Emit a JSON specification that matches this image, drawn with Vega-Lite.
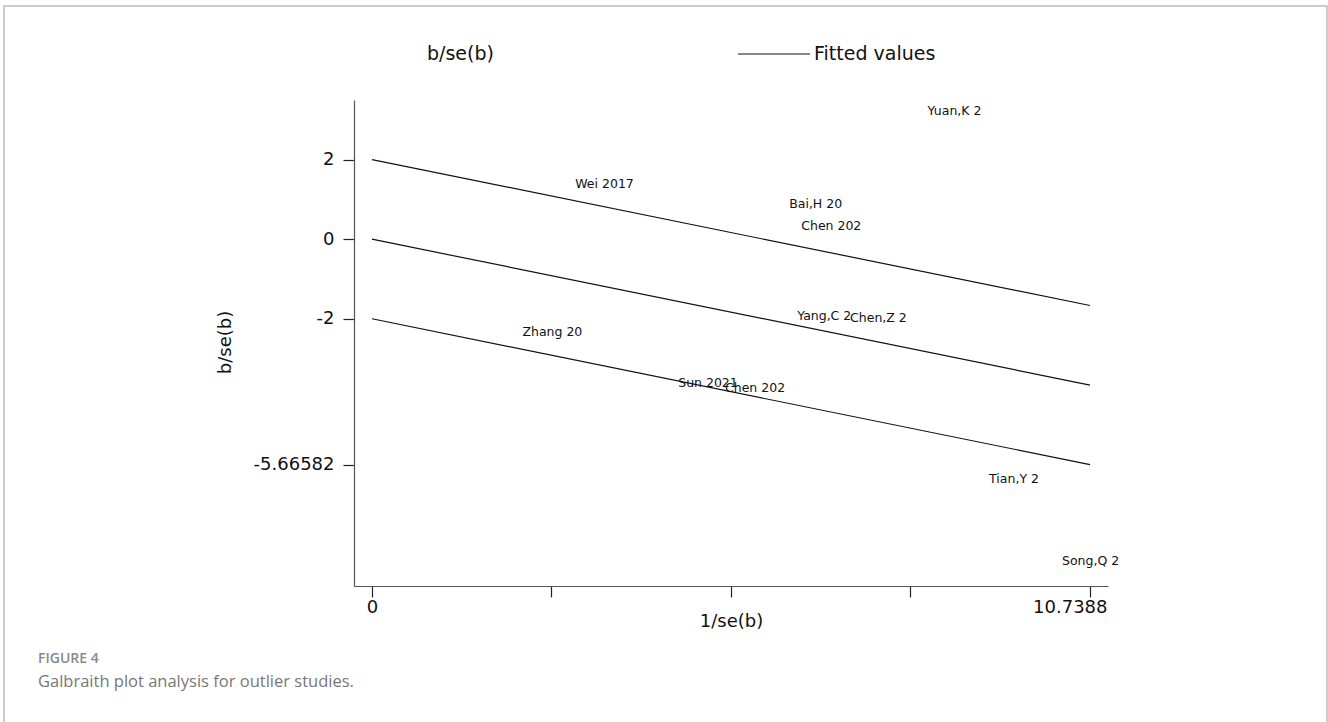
{
  "$schema": "https://vega.github.io/schema/vega-lite/v6.json",
  "autosize": "none",
  "width": 754,
  "height": 486,
  "padding": {"left": 354, "top": 100, "right": 220, "bottom": 136},
  "background": "white",
  "config": {"view": {"stroke": null}},
  "title": {
    "text": "FIGURE 4",
    "subtitle": "Galbraith plot analysis for outlier studies.",
    "orient": "bottom",
    "anchor": "start",
    "frame": "group",
    "dx": -316,
    "dy": -111,
    "offset": 22,
    "font": "Open Sans",
    "fontSize": 14,
    "fontWeight": 600,
    "color": "#888888",
    "subtitleFont": "Open Sans",
    "subtitleFontSize": 16.5,
    "subtitleColor": "#777777",
    "subtitlePadding": 8
  },
  "datasets": {
    "fitted": [
      {"line": "upper", "x": 0, "y": 2, "series": "Fitted values"},
      {"line": "upper", "x": 10.7388, "y": -1.66582, "series": "Fitted values"},
      {"line": "middle", "x": 0, "y": 0, "series": "Fitted values"},
      {"line": "middle", "x": 10.7388, "y": -3.66582, "series": "Fitted values"},
      {"line": "lower", "x": 0, "y": -2, "series": "Fitted values"},
      {"line": "lower", "x": 10.7388, "y": -5.66582, "series": "Fitted values"}
    ],
    "studies": [
      {"study": "Yuan,K 2", "x": 8.25, "y": 3.23},
      {"study": "Wei 2017", "x": 2.98, "y": 1.39},
      {"study": "Bai,H 20", "x": 6.18, "y": 0.88},
      {"study": "Chen 202", "x": 6.36, "y": 0.33},
      {"study": "Yang,C 2", "x": 6.30, "y": -1.92},
      {"study": "Chen,Z 2", "x": 7.09, "y": -1.99},
      {"study": "Zhang 20", "x": 2.19, "y": -2.34},
      {"study": "Sun 2021", "x": 4.52, "y": -3.62},
      {"study": "Chen 202", "x": 5.22, "y": -3.74},
      {"study": "Tian,Y 2", "x": 9.17, "y": -6.03},
      {"study": "Song,Q 2", "x": 10.26, "y": -8.10}
    ],
    "frame": [{"x": -5.504, "x2": 14.283, "y": 5.861, "y2": -12.586}]
  },
  "layer": [
    {
      "data": {"name": "frame"},
      "mark": {"type": "rect", "fill": null, "stroke": "#bbbbbb", "strokeWidth": 1.5, "clip": false},
      "encoding": {
        "x": {"field": "x", "type": "quantitative"},
        "x2": {"field": "x2"},
        "y": {"field": "y", "type": "quantitative"},
        "y2": {"field": "y2"}
      }
    },
    {
      "data": {"name": "fitted"},
      "mark": {"type": "line", "strokeWidth": 1.2},
      "encoding": {
        "x": {
          "field": "x", "type": "quantitative",
          "scale": {"domain": [-0.269, 11.008], "zero": false, "nice": false},
          "axis": {
            "values": [0, 2.6847, 5.3694, 8.0541, 10.7388],
            "labelExpr": "datum.value == 0 ? '0' : (datum.value > 10 ? '10.7388' : '')",
            "title": "1/se(b)",
            "grid": false,
            "tickSize": 11,
            "labelPadding": 1,
            "labelFont": "DejaVu Sans",
            "labelFontSize": 18,
            "labelColor": "#111111",
            "labelAlign": {"condition": {"test": "datum.value > 10", "value": "right"}, "value": "center"},
            "labelOffset": {"condition": {"test": "datum.value > 10", "value": 17}, "value": 0},
            "labelFlush": false,
            "labelOverlap": false,
            "domainColor": "#555555",
            "domainWidth": 1.2,
            "tickColor": "#222222",
            "tickWidth": 1.2,
            "titleFont": "DejaVu Sans",
            "titleFontSize": 18,
            "titleFontWeight": "normal",
            "titleColor": "#111111",
            "titleBaseline": "middle",
            "titleY": 35
          }
        },
        "y": {
          "field": "y", "type": "quantitative",
          "scale": {"domain": [-8.716, 3.498], "zero": false, "nice": false},
          "axis": {
            "values": [2, 0, -2, -5.66582],
            "labelExpr": "datum.value + ''",
            "title": "b/se(b)",
            "grid": false,
            "tickSize": 11,
            "labelPadding": 9,
            "labelFont": "DejaVu Sans",
            "labelFontSize": 18,
            "labelColor": "#111111",
            "labelOverlap": false,
            "labelFlush": false,
            "domainColor": "#555555",
            "domainWidth": 1.2,
            "tickColor": "#222222",
            "tickWidth": 1.2,
            "titleFont": "DejaVu Sans",
            "titleFontSize": 18,
            "titleFontWeight": "normal",
            "titleColor": "#111111",
            "titleAlign": "center",
            "titleBaseline": "middle",
            "titleX": -129,
            "titleY": 242
          }
        },
        "detail": {"field": "line"},
        "color": {
          "field": "series", "type": "nominal",
          "scale": {"domain": ["b/se(b)", "Fitted values"], "range": ["#111111", "#111111"]},
          "legend": {
            "title": null,
            "orient": "none",
            "legendX": -4,
            "legendY": -83,
            "direction": "horizontal",
            "columns": 2,
            "symbolType": "stroke",
            "symbolSize": 5184,
            "symbolStrokeWidth": 1.2,
            "labelFont": "DejaVu Sans",
            "labelFontSize": 19,
            "labelColor": "#111111",
            "labelOffset": 3,
            "columnPadding": 241,
            "padding": 0,
            "encode": {"symbols": {"update": {"opacity": {"signal": "datum.value === 'b/se(b)' ? 0 : 1"}}}}
          }
        }
      }
    },
    {
      "data": {"name": "studies"},
      "mark": {"type": "text", "align": "left", "baseline": "middle", "dx": 4, "font": "DejaVu Sans", "fontSize": 12.5, "color": "#111111"},
      "encoding": {
        "x": {"field": "x", "type": "quantitative"},
        "y": {"field": "y", "type": "quantitative"},
        "text": {"field": "study"}
      }
    }
  ]
}
